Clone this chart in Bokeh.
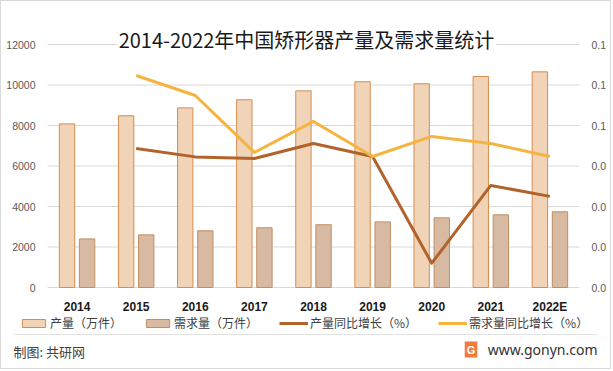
from bokeh.plotting import figure
from bokeh.models import (Range1d, LinearAxis, FixedTicker, Legend, LegendItem,
                          Label, ColumnDataSource, BoxAnnotation)
from bokeh.embed import file_html
from bokeh.resources import INLINE

# ---- data ----
years = ["2014", "2015", "2016", "2017", "2018", "2019", "2020", "2021", "2022E"]
production = [8080, 8480, 8870, 9270, 9710, 10160, 10060, 10420, 10650]
demand = [2400, 2600, 2800, 2950, 3100, 3240, 3440, 3590, 3740]
growth_years = ["2015", "2016", "2017", "2018", "2019", "2020", "2021", "2022E"]
production_growth = [0.0486, 0.0445, 0.0437, 0.0511, 0.0447, -0.0080, 0.0304, 0.0250]
demand_growth = [0.0847, 0.0748, 0.0467, 0.0620, 0.0447, 0.0546, 0.0511, 0.0447]
left_ticks = [0, 2000, 4000, 6000, 8000, 10000, 12000]
right_ticks = [-0.02, 0.0, 0.02, 0.04, 0.06, 0.08, 0.1]
right_tick_labels = ["0.0", "0.0", "0.0", "0.0", "0.1", "0.1", "0.1"]
title_text = "2014-2022年中国矫形器产量及需求量统计"
legend_labels = ["产量（万件）", "需求量（万件）", "产量同比增长（%）", "需求量同比增长（%）"]
source_text = "制图: 共研网"
site_text = "www.gonyn.com"

# ---- positions on the category scale ----
n = len(years)
xpos = list(range(n))
gpos = [years.index(y) for y in growth_years]
lo, hi = left_ticks[0], left_ticks[-1]
rlo, rhi = right_ticks[0], right_ticks[-1]

bars = ColumnDataSource(dict(xp=[i - 0.17 for i in xpos], xd=[i + 0.17 for i in xpos],
                             production=production, demand=demand))
lines = ColumnDataSource(dict(x=gpos, pg=production_growth, dg=demand_growth))

# frame covers the whole canvas; axes are pinned with fixed_location
W, H = 611, 369
cat_px = 59.11
left_px, bottom_px = 46, 286          # canvas px of category edge / zero line
x0 = -0.5 - left_px / cat_px
x1 = x0 + W / cat_px
px_per_unit = 243 / (hi - lo)
y0 = lo - (H - bottom_px) / px_per_unit
y1 = lo + bottom_px / px_per_unit
scale = (rhi - rlo) / (hi - lo)

p = figure(x_range=Range1d(x0, x1), y_range=Range1d(y0, y1),
           width=W, height=H, output_backend="svg", toolbar_location=None,
           x_axis_location=None, y_axis_location=None,
           min_border=0, min_border_left=0, min_border_right=0,
           min_border_top=0, min_border_bottom=0)
p.extra_y_ranges = {"pct": Range1d(rlo + (y0 - lo) * scale, rlo + (y1 - lo) * scale)}
p.outline_line_color = None
p.grid.visible = False

# grid lines across the category span
p.segment(x0=[-0.5] * len(left_ticks), x1=[n - 0.5] * len(left_ticks),
          y0=left_ticks, y1=left_ticks, line_color="#D9D9D9", line_width=1)

r1 = p.vbar(x="xp", top="production", width=0.26, source=bars,
            fill_color="#F1D3B8", line_color="#D38E50", line_width=1)
r2 = p.vbar(x="xd", top="demand", width=0.26, source=bars,
            fill_color="#D8BAA2", line_color="#C08E63", line_width=1)
r3 = p.line(x="x", y="pg", source=lines, y_range_name="pct", line_color="#B2632B",
            line_width=3, line_join="round")
r4 = p.line(x="x", y="dg", source=lines, y_range_name="pct", line_color="#F5B43F",
            line_width=3, line_join="round")

def style_axis(ax, size, color, standoff):
    ax.axis_line_color = None
    ax.major_tick_line_color = None
    ax.minor_tick_line_color = None
    ax.major_tick_in = 0
    ax.major_tick_out = 0
    ax.major_label_standoff = standoff
    ax.major_label_text_font = "Liberation Sans"
    ax.major_label_text_font_size = size
    ax.major_label_text_color = color

ly = LinearAxis(ticker=FixedTicker(ticks=left_ticks), fixed_location=-0.5)
style_axis(ly, "10.5px", "#595959", 12)
p.add_layout(ly, "left")

ry = LinearAxis(y_range_name="pct", ticker=FixedTicker(ticks=right_ticks), fixed_location=n - 0.5)
ry.major_label_overrides = {t: l for t, l in zip(right_ticks, right_tick_labels)}
style_axis(ry, "10.5px", "#595959", 12)
p.add_layout(ry, "right")

bx = LinearAxis(ticker=FixedTicker(ticks=xpos), fixed_location=lo)
bx.major_label_overrides = {i: y for i, y in zip(xpos, years)}
style_axis(bx, "12px", "#1a1a1a", 12)
bx.major_label_text_font_style = "bold"
p.add_layout(bx, "below")

# title over the plot area
p.add_layout(Label(x=305, y=331, x_units="screen", y_units="screen", text=title_text,
                   text_align="center", text_baseline="middle",
                   text_font="Noto Sans CJK SC", text_font_size="20px",
                   text_color="#1a1a1a", background_fill_color="white", padding=2))

legend = Legend(items=[LegendItem(label=legend_labels[0], renderers=[r1]),
                       LegendItem(label=legend_labels[1], renderers=[r2]),
                       LegendItem(label=legend_labels[2], renderers=[r3]),
                       LegendItem(label=legend_labels[3], renderers=[r4])],
                orientation="horizontal", location=(18, 39),
                glyph_width=29, glyph_height=10, label_height=14, label_standoff=2,
                spacing=21, padding=0, margin=0,
                label_text_font="Noto Sans CJK SC", label_text_font_size="12px",
                label_text_color="#404040", border_line_color=None,
                background_fill_alpha=0)
p.add_layout(legend)

# separator line above footer
p.add_layout(BoxAnnotation(left=12, right=596, top=36.5, bottom=35.5,
                           left_units="screen", right_units="screen",
                           top_units="screen", bottom_units="screen",
                           fill_color="#E3E3E3", fill_alpha=1, line_color=None))

p.add_layout(Label(x=12, y=19, x_units="screen", y_units="screen", text=source_text,
                   text_baseline="middle", text_font="Noto Sans CJK SC",
                   text_font_size="13px", text_color="#404040"))
p.add_layout(Label(x=469.5, y=21, x_units="screen", y_units="screen", text="G",
                   text_align="center", text_baseline="middle", text_font="Liberation Sans",
                   text_font_style="bold", text_font_size="11px", text_color="white",
                   background_fill_color="#F27A3C", padding=2))
p.add_layout(Label(x=596, y=21, x_units="screen", y_units="screen", text=site_text,
                   text_align="right", text_baseline="middle", text_font="Noto Sans",
                   text_font_size="14px", text_color="#333333"))

p.styles = {"border": "1px solid #D9D9D9"}

open("out.html", "w").write(file_html(p, INLINE))
